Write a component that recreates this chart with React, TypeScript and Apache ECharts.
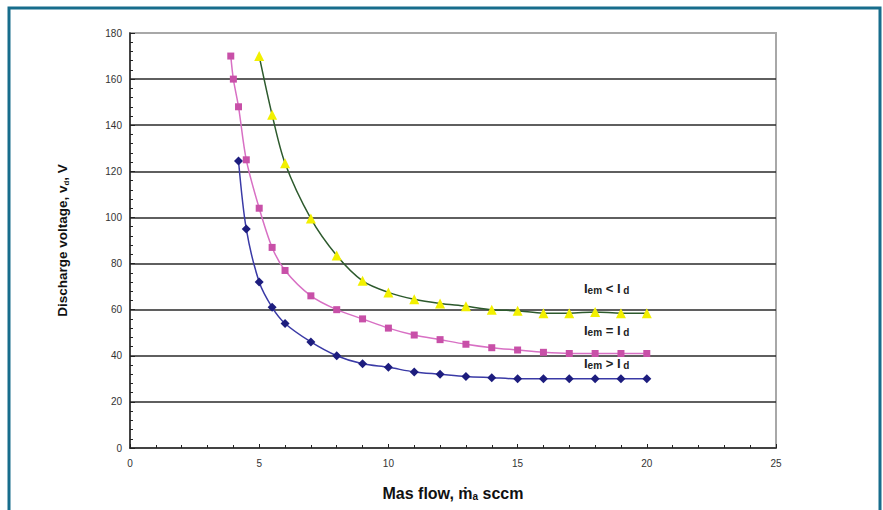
import React, { useEffect, useRef } from "react";
import * as echarts from "echarts";

const blueX = [4.2, 4.5, 5, 5.5, 6, 7, 8, 9, 10, 11, 12, 13, 14, 15, 16, 17, 18, 19, 20];
const blueY = [124.5, 95, 72, 61, 54, 46, 40, 36.5, 35, 33, 32, 31, 30.5, 30, 30, 30, 30, 30, 30];

const pinkX = [3.9, 4, 4.2, 4.5, 5, 5.5, 6, 7, 8, 9, 10, 11, 12, 13, 14, 15, 16, 17, 18, 19, 20];
const pinkY = [170, 160, 148, 125, 104, 87, 77, 66, 60, 56, 52, 49, 47, 45, 43.5, 42.5, 41.5, 41, 41, 41, 41];

const yellowX = [5, 5.5, 6, 7, 8, 9, 10, 11, 12, 13, 14, 15, 16, 17, 18, 19, 20];
const yellowY = [170, 144.5, 123.5, 99.5, 83.5, 72.5, 67.5, 64.5, 62.7, 61.5, 60, 59.5, 58.5, 58.5, 59, 58.5, 58.5];

const xTicks = { min: 0, max: 25, interval: 5 };
const yTicks = { min: 0, max: 180, interval: 20 };

const curveLabels = [
  { op: "<", top: 282 },
  { op: "=", top: 324 },
  { op: ">", top: 357 },
];

const zip = (xs: number[], ys: number[]) => xs.map((x, i) => [x, ys[i]]);

export default function App() {
  const ref = useRef<HTMLDivElement>(null);
  useEffect(() => {
    if (!ref.current) return;
    const chart = echarts.init(ref.current, null, { renderer: "svg" });
    const labelFont = "Liberation Sans, Arial, sans-serif";
    chart.setOption({
      animation: false,
      backgroundColor: "#ffffff",
      grid: {
        left: 130,
        right: 107,
        top: 33,
        bottom: 62,
        outerBoundsMode: "none",
        containLabel: false,
        show: true,
        borderColor: "#a8a8a8",
        borderWidth: 2,
      },
      xAxis: {
        type: "value",
        min: xTicks.min,
        max: xTicks.max,
        interval: xTicks.interval,
        name: "Mas flow, ṁ{sub|a} sccm",
        nameLocation: "middle",
        nameGap: 37,
        nameTextStyle: {
          fontFamily: labelFont,
          fontSize: 16,
          fontWeight: "bold",
          color: "#111",
          rich: {
            sub: { fontSize: 10, fontWeight: "bold", verticalAlign: "bottom", padding: [6, 0, 0, 0], fontFamily: labelFont, color: "#111" },
          },
        },
        axisLine: { show: true, onZero: false, lineStyle: { color: "#222", width: 1.5 } },
        axisTick: { show: true, inside: true, length: 4, lineStyle: { color: "#222" } },
        minorTick: { show: true, splitNumber: 5, length: 3, lineStyle: { color: "#222" } },
        axisLabel: { fontFamily: labelFont, fontSize: 10, color: "#333", margin: 10 },
        splitLine: { show: false },
      },
      yAxis: {
        type: "value",
        min: yTicks.min,
        max: yTicks.max,
        interval: yTicks.interval,
        name: "Discharge voltage, v{sub|d}, V",
        nameLocation: "middle",
        nameRotate: 90,
        nameGap: 60,
        nameTextStyle: {
          fontFamily: labelFont,
          fontSize: 13.5,
          fontWeight: "bold",
          color: "#111",
          rich: {
            sub: { fontSize: 8, fontWeight: "bold", verticalAlign: "bottom", padding: [8, 0, 0, 0], fontFamily: labelFont, color: "#111" },
          },
        },
        axisLine: { show: true, onZero: false, lineStyle: { color: "#222", width: 1.5 } },
        axisTick: { show: true, inside: true, length: 5, lineStyle: { color: "#222" } },
        minorTick: { show: true, splitNumber: 5, length: 3, lineStyle: { color: "#222" } },
        axisLabel: { fontFamily: labelFont, fontSize: 10, color: "#333", margin: 8 },
        splitLine: {
          show: true,
          showMinLine: false,
          showMaxLine: false,
          lineStyle: { color: "#2a2a2a", width: 1.6 },
        },
      },
      series: [
        {
          name: "Iem > Id",
          type: "line",
          data: zip(blueX, blueY),
          smooth: 0.3,
          symbol: "diamond",
          symbolSize: 9,
          itemStyle: { color: "#1d1d7e" },
          lineStyle: { color: "#3a3aa6", width: 1.5 },
          z: 4,
        },
        {
          name: "Iem = Id",
          type: "line",
          data: zip(pinkX, pinkY),
          smooth: 0.3,
          symbol: "rect",
          symbolSize: 7,
          itemStyle: { color: "#c850a8" },
          lineStyle: { color: "#d870c4", width: 1.5 },
          z: 4,
        },
        {
          name: "Iem < Id",
          type: "line",
          data: zip(yellowX, yellowY),
          smooth: 0.3,
          symbol: "triangle",
          symbolSize: 10,
          itemStyle: { color: "#f2f000" },
          lineStyle: { color: "#2d5a2d", width: 1.5 },
          z: 4,
        },
      ],
      graphic: [
        {
          type: "rect",
          shape: { x: 9, y: 8, width: 871, height: 540 },
          style: { fill: "none", stroke: "#176d8c", lineWidth: 3 },
          silent: true,
        },
        ...curveLabels.map((l) => ({
          type: "text",
          left: 584,
          top: l.top,
          style: {
            text: `{b|I}{s|em}{b| ${l.op} I}{s| d}`,
            rich: {
              b: { fontSize: 13, fontWeight: "bold", fontFamily: labelFont, fill: "#222" },
              s: { fontSize: 10, fontWeight: "bold", fontFamily: labelFont, fill: "#222", padding: [3, 0, 0, 0] },
            },
          },
          z: 10,
        })),
      ],
    });
    return () => chart.dispose();
  }, []);
  return (
    <div
      ref={ref}
      style={{ position: "absolute", left: 0, top: 0, width: 883, height: 510 }}
    />
  );
}
